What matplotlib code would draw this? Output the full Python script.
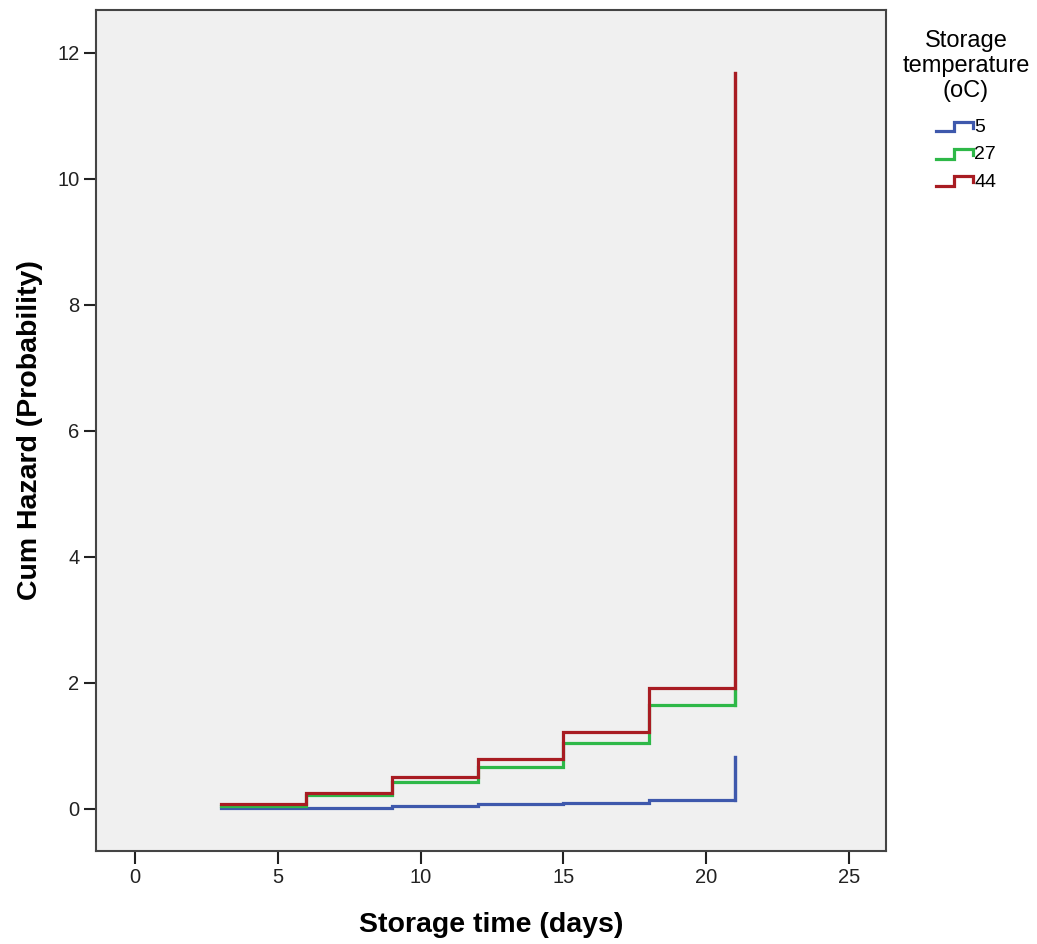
import matplotlib
matplotlib.use("Agg")
import matplotlib.pyplot as plt
from matplotlib.lines import Line2D
from matplotlib.legend_handler import HandlerBase

plt.rcParams['font.family'] = ['Liberation Sans', 'DejaVu Sans']

# event times (days) and cumulative hazard per storage temperature
times = [3, 6, 9, 12, 15, 18, 21]
haz_5 = [0.01, 0.02, 0.05, 0.08, 0.10, 0.14, 0.82]
haz_27 = [0.05, 0.22, 0.43, 0.67, 1.05, 1.65, 1.88]
haz_44 = [0.08, 0.26, 0.50, 0.79, 1.22, 1.92, 11.68]
labels = ["5", "27", "44"]
colors = ["#3e58ac", "#2eb848", "#a81c22"]

xticks = [0, 5, 10, 15, 20, 25]
yticks = [0, 2, 4, 6, 8, 10, 12]


class StepHandler(HandlerBase):
    # legend key drawn as a little step, like SPSS does
    def create_artists(self, legend, orig, x0, y0, w, h, fontsize, trans):
        xs = [x0, x0 + 0.5 * w, x0 + 0.5 * w, x0 + w, x0 + w]
        ys = [y0 + 0.05 * h, y0 + 0.05 * h, y0 + 0.75 * h, y0 + 0.75 * h, y0 + 0.3 * h]
        ln = Line2D(xs, ys, color=orig.get_color(), lw=orig.get_linewidth(),
                    solid_joinstyle='miter', transform=trans)
        return [ln]


fig = plt.figure(figsize=(10.37, 9.44), dpi=100)
ax = fig.add_axes([0.0926, 0.0985, 0.7618, 0.8909])
ax.set_facecolor("#f0f0f0")

handles = []
for haz, lab, col in zip([haz_5, haz_27, haz_44], labels, colors):
    ln, = ax.step(times, haz, where='post', color=col, lw=2.3, label=lab,
                  solid_joinstyle='miter')
    # final vertical jump at the last event time
    ax.plot([times[-1], times[-1]], [haz[-2], haz[-1]], color=col, lw=2.3)
    handles.append(ln)

ax.set_xlim(-1.37, 26.3)
ax.set_ylim(-0.667, 12.68)
ax.set_xticks(xticks)
ax.set_yticks(yticks)
ax.tick_params(direction='out', length=9, width=1.5, labelsize=14.5, colors='#222222', pad=3)
for s in ax.spines.values():
    s.set_linewidth(1.5)
    s.set_color('#444444')

ax.set_xlabel("Storage time (days)", fontsize=20.5, fontweight='bold', labelpad=18)
ax.set_ylabel("Cum Hazard (Probability)", fontsize=20.5, fontweight='bold', labelpad=10)

leg = fig.legend(handles=handles, labels=labels, title="Storage\ntemperature\n(oC)",
                 loc='upper center', bbox_to_anchor=(0.9315, 0.978), frameon=False,
                 fontsize=14, title_fontsize=17, handler_map={Line2D: StepHandler()},
                 handlelength=1.95, handletextpad=0.05, labelspacing=0.5, borderpad=0)
leg.get_title().set_multialignment('center')
leg.get_title().set_linespacing(1.15)
leg._legend_box.sep = 12

fig.savefig("out.png", dpi=100)
